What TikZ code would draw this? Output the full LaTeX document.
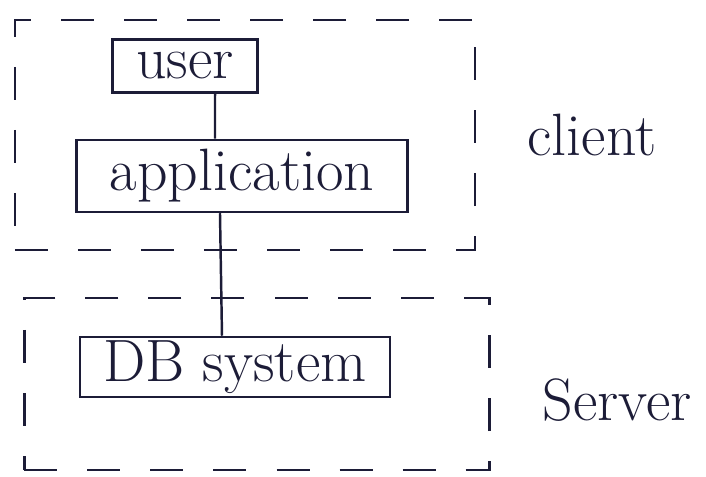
\documentclass[tikz,border=0pt]{standalone}
\usepackage{fontspec}
\definecolor{ink}{RGB}{28,28,55}
\begin{document}
\begin{tikzpicture}[x=0.01cm,y=-0.01cm,
  every node/.style={text=ink},
  solidbox/.style={draw=ink,line width=0.7pt,inner sep=0pt,font=\fontsize{17}{20}\selectfont},
  dashbox/.style={draw=ink,line width=0.7pt,dash pattern=on 0.33cm off 0.3cm,inner sep=0pt},
  lbl/.style={font=\fontsize{17}{20}\selectfont},
  conn/.style={draw=ink,line width=0.7pt}]
\useasboundingbox (0,0) rectangle (706,477);
\node[dashbox,minimum width=4.6cm,minimum height=2.3cm] (clientbox) at (245,135) {};
\node[dashbox,minimum width=4.65cm,minimum height=1.72cm] (serverbox) at (257,384) {};
\node[solidbox,minimum width=1.45cm,minimum height=0.53cm] (user) at (185,66) {user};
\node[solidbox,minimum width=3.31cm,minimum height=0.72cm] (app) at (242,176) {application};
\node[solidbox,minimum width=3.10cm,minimum height=0.60cm] (db) at (235,367) {DB system};
\node[lbl] (client) at (592,135) {client};
\node[lbl] (server) at (617,400) {Server};
\draw[conn] ([xshift=0.30cm]user.south) -- ([xshift=-0.27cm]app.north);
\draw[conn] ([xshift=-0.22cm]app.south) -- ([xshift=-0.13cm]db.north);
\end{tikzpicture}
\end{document}
